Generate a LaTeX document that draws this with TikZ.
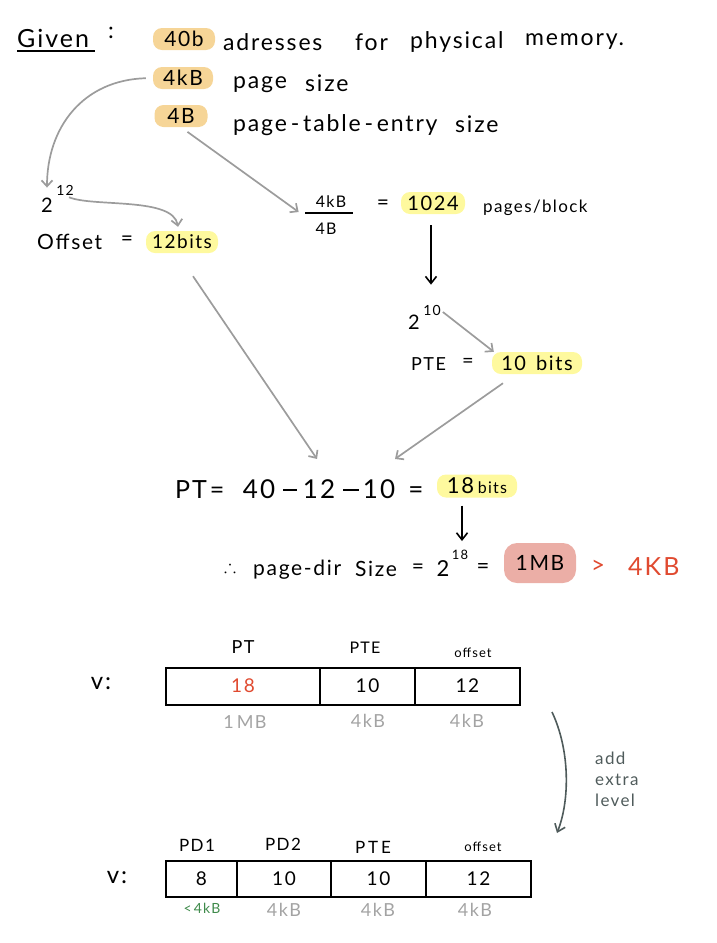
\documentclass[tikz,border=0pt]{standalone}
\usepackage{amssymb}
\usepackage{fontspec}
\setmainfont{Lato}[LetterSpace=8]
\usetikzlibrary{arrows.meta}
\definecolor{hlorange}{HTML}{F6D597}
\definecolor{hlyellow}{HTML}{FEF99E}
\definecolor{hlpink}{HTML}{EBAEA6}
\definecolor{redtxt}{HTML}{E04A30}
\definecolor{arrgrey}{HTML}{9C9C9C}
\definecolor{greytxt}{HTML}{A3A3A3}
\definecolor{greentxt}{HTML}{3E8A4A}
\definecolor{darkarr}{HTML}{4F5B5B}
\newcommand{\fs}[1]{\fontsize{#1}{#1}\selectfont}
\begin{document}
\begin{tikzpicture}[x=1pt,y=-1pt,
  txt/.style={inner sep=0pt, anchor=west, font=\fs{23}},
  ctxt/.style={inner sep=0pt, font=\fs{17}},
  btxt/.style={inner sep=0pt, anchor=base, font=\fs{26}},
  hl/.style={rounded corners=9pt, inner sep=0pt, minimum height=22pt, font=\fs{21}},
  orange/.style={hl, fill=hlorange},
  yel/.style={hl, fill=hlyellow},
  garrow/.style={draw=arrgrey, line width=1.7pt, -{Straight Barb[length=6pt,width=11pt]}},
  barrow/.style={draw=black, line width=1.6pt, -{Straight Barb[length=7pt,width=11pt]}},
  darrow/.style={draw=darkarr, line width=1.6pt, -{Straight Barb[length=7pt,width=11pt]}},
  cell/.style={draw, line width=2pt, outer sep=0pt, minimum height=37pt, inner sep=0pt, anchor=west, font=\fs{19}},
  lab/.style={inner sep=0pt, font=\fs{17}},
  glab/.style={inner sep=0pt, font=\fs{18}, text=greytxt},
  minus/.style={inner sep=0pt}
]
\useasboundingbox (0,0) rectangle (717,943);

% ---------- Given ----------
\node[txt, font=\fs{25}] (given) at (17,38) {Given};
\draw[line width=1.6pt] (17,51) -- (95,51);
\node[ctxt, font=\fs{23}] (colon) at (111,33) {:};

\node[orange, minimum width=62pt] (n40b) at (184,39) {40b};
\node[txt] (w1) at (223,42) {adresses};
\node[txt] (w2) at (355,42) {for};
\node[txt] (w3) at (410,42) {physical};
\node[txt] (w4) at (525,42) {memory.};
\node[orange, minimum width=60pt] (n4kb) at (183,78) {4kB};
\node[txt] (w5) at (233,85) {page};
\node[txt] (w6) at (305,83) {size};
\node[orange, minimum width=53pt] (n4b) at (181,116) {4B};
\node[txt] (w7) at (233,125) {page\,-\,table\,-\,entry};
\node[txt] (w8) at (455,124) {size};

% ---------- offset branch ----------
\node[ctxt, font=\fs{20}] (two12) at (47,205) {2};
\node[ctxt, font=\fs{14}] (sup12) at (65,190) {12};
\draw[garrow, shorten <=7pt] (n4kb.west) .. controls +(-70,2) and +(0,-60) .. ([yshift=10pt]two12.north);
\node[txt, font=\fs{21}] (offs) at (37,242) {Offset};
\node[ctxt, font=\fs{21}] (offeq) at (127,241) {=};
\node[yel, minimum width=72pt, font=\fs{19}] (n12bits) at (182,242) {12bits};
\draw[garrow] ([xshift=4pt,yshift=-2pt]sup12.south) .. controls +(25,10) and +(-5,-30) .. ([xshift=-4pt,yshift=4pt]n12bits.north);

% ---------- PTE branch ----------
\node[ctxt, font=\fs{16}] (fnum) at (331,202) {4kB};
\node[ctxt, font=\fs{16}] (fden) at (326,229) {4B};
\draw[line width=1.4pt] (305,213) -- (353,213);
\draw[garrow, shorten <=8pt] (n4b.south) -- ([xshift=-17pt,yshift=-10pt]fnum.west);
\node[ctxt, font=\fs{21}] (eq1) at (383,205) {=};
\node[yel, minimum width=64pt, font=\fs{20}] (n1024) at (433,203) {1024};
\node[txt, font=\fs{17}] (ppb) at (483,208) {pages/block};
\node[ctxt, font=\fs{20}] (two10) at (414,322) {2};
\node[ctxt, font=\fs{14}] (sup10) at (432,310) {10};
\draw[barrow] ([xshift=-2pt,yshift=-11pt]n1024.south) -- ([xshift=-1pt,yshift=20pt]sup10.north);
\node[txt, font=\fs{18}] (pteeq) at (411,364) {PTE};
\node[ctxt, font=\fs{20}] (pteq2) at (468,363) {=};
\node[yel, minimum width=90pt, font=\fs{20}] (n10bits) at (537,363) {10\enspace bits};
\draw[garrow] ([xshift=2pt,yshift=-2pt]sup10.east) -- ([xshift=2pt,yshift=0pt]n10bits.north west);

% ---------- PT equation ----------
\node[btxt, anchor=base west, font=\fs{25}] (ptl) at (175,498) {PT};
\node[btxt, font=\fs{25}] (ptle) at (217,498) {=};
\node[btxt] (e40) at (259,498) {40};
\node[minus] (em1) at (290,490) {\rule{14pt}{1.8pt}};
\node[btxt] (e12) at (319,498) {12};
\node[minus] (em2) at (351,490) {\rule{16pt}{1.8pt}};
\node[btxt] (e10) at (379,498) {10};
\node[btxt] (eq2) at (416,498) {=};
\node[yel, minimum width=80pt, minimum height=23pt, font=\fs{22}] (n18) at (477,486) {18\,{\fs{16}bits}};
\draw[garrow] ([xshift=11pt,yshift=-23pt]n12bits.south) -- ([xshift=-2pt,yshift=20pt]e12.north);
\draw[garrow] ([xshift=-34pt,yshift=-9pt]n10bits.south) -- ([xshift=16pt,yshift=20pt]e10.north);

% ---------- page-dir ----------
\node[ctxt, font=\fs{18}] (thf) at (230,566) {$\therefore$};
\node[txt, font=\fs{21}] (pdir) at (253,570) {page-dir};
\node[txt, font=\fs{21}] (psz) at (355,569) {Size};
\node[ctxt, font=\fs{21}] (peq) at (418,569) {=};
\node[ctxt, font=\fs{22}] (two18) at (443,569) {2};
\node[ctxt, font=\fs{13}] (sup18) at (460,555) {18};
\node[ctxt, font=\fs{22}] (eq3) at (483,568) {=};
\node[hl, fill=hlpink, minimum width=72pt, minimum height=40pt, rounded corners=13pt, font=\fs{21}] (n1mb) at (540,563) {1MB};
\node[ctxt, font=\fs{24}, text=redtxt] (gt) at (598,567) {>};
\node[txt, font=\fs{25}, text=redtxt] (gt4) at (628,567) {4KB};
\draw[barrow] ([xshift=-15pt,yshift=-8pt]n18.south) -- ([xshift=2pt,yshift=9pt]sup18.north);

% ---------- table 1 ----------
\node[ctxt, font=\fs{24}] (v1) at (101,684) {v:};
\node[cell, minimum width=154pt, text=redtxt] (a1) at (166,686) {18};
\node[cell, minimum width=95pt] (a2) at (a1.east) {10};
\node[cell, minimum width=105pt, text width=80pt, align=center] (a3) at (a2.east) {12};
\node[lab, font=\fs{18}] (la1) at (243,647) {PT};
\node[lab, font=\fs{16}] (la2) at (365,648) {PTE};
\node[lab, font=\fs{13}] (la3) at (473,653) {offset};
\node[glab] (ga1) at (245,722) {1\,MB};
\node[glab] (ga2) at (368,721) {4kB};
\node[glab] (ga3) at (467,721) {4kB};

% ---------- arrow add extra level ----------
\coordinate (c1) at (552,712);
\coordinate (c2) at (557,833);
\draw[darrow] (c1) .. controls (570,750) and (570,800) .. (c2);
\node[inner sep=0pt, anchor=north west, align=left, text=darkarr, font=\fs{17}] (addl) at (595,752) {add\\[4pt]extra\\[4pt]level};

% ---------- table 2 ----------
\node[ctxt, font=\fs{24}] (v2) at (117,877) {v:};
\node[cell, minimum width=71pt, minimum height=36pt] (b1) at (166,879) {8};
\node[cell, minimum width=94pt, minimum height=36pt] (b2) at (b1.east) {10};
\node[cell, minimum width=95pt, minimum height=36pt] (b3) at (b2.east) {10};
\node[cell, minimum width=105pt, minimum height=36pt] (b4) at (b3.east) {12};
\node[lab] (lb1) at (197,845) {PD1};
\node[lab] (lb2) at (283,844) {PD2};
\node[lab] (lb3) at (373,847) {P\,T\,E};
\node[lab, font=\fs{13}] (lb4) at (483,847) {offset};
\node[inner sep=0pt, font=\fs{14}, text=greentxt] (gb1) at (202,908) {<\,4kB};
\node[glab] (gb2) at (284,910) {4kB};
\node[glab] (gb3) at (378,910) {4kB};
\node[glab] (gb4) at (475,910) {4kB};
\end{tikzpicture}
\end{document}
